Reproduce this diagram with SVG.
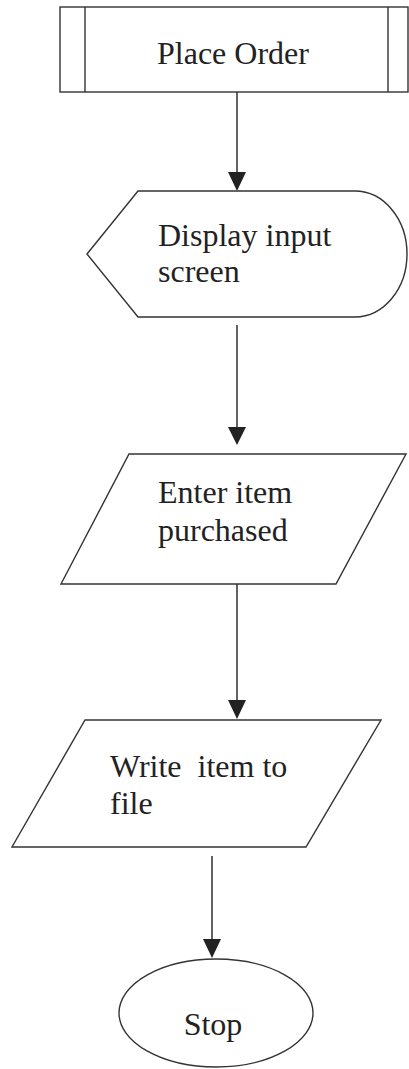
<svg xmlns="http://www.w3.org/2000/svg" width="409" height="1069" viewBox="0 0 409 1069">
<style>
.s{fill:#fff;stroke:#333;stroke-width:1.4}
.t{font-family:"Liberation Serif","Times New Roman",serif;font-size:32px;fill:#222}
.c{stroke:#222;stroke-width:1.4;fill:none}
</style>
<defs>
<marker id="ah" viewBox="0 0 18 19" refX="9" refY="19" markerWidth="18" markerHeight="19" markerUnits="userSpaceOnUse" orient="auto-start-reverse">
<path d="M0,0 L18,0 L9,19 Z" fill="#222"/>
</marker>
</defs>
<rect width="409" height="1069" fill="#fff"/>
<g id="connectors">
<line class="c" x1="237" y1="92" x2="237" y2="172"/>
<path d="M228,172 L246,172 L237,191 Z" fill="#222"/>
<line class="c" x1="237" y1="325" x2="237" y2="427"/>
<path d="M228,427 L246,427 L237,445 Z" fill="#222"/>
<line class="c" x1="237" y1="584" x2="237" y2="700"/>
<path d="M228,700 L246,700 L237,719 Z" fill="#222"/>
<line class="c" x1="212" y1="856" x2="212" y2="939"/>
<path d="M203,939 L221,939 L212,958 Z" fill="#222"/>
</g>
<g id="place-order">
<rect class="s" x="60" y="7" width="348" height="85"/>
<line class="s" x1="85" y1="7" x2="85" y2="92"/>
<line class="s" x1="388" y1="7" x2="388" y2="92"/>
<text class="t" x="157" y="64">Place Order</text>
</g>
<g id="display-input">
<path class="s" d="M87,254 L138,191 L355,191 A52,63 0 0 1 355,317 L138,317 Z"/>
<text class="t" x="158" y="246">Display input</text>
<text class="t" x="158" y="282">screen</text>
</g>
<g id="enter-item">
<path class="s" d="M129,454 L406,454 L336,584 L61,584 Z"/>
<text class="t" x="158" y="503">Enter item</text>
<text class="t" x="158" y="541">purchased</text>
</g>
<g id="write-item">
<path class="s" d="M85,720 L381,720 L306,847 L12,847 Z"/>
<text class="t" x="110" y="777" xml:space="preserve">Write  item to</text>
<text class="t" x="110" y="814">file</text>
</g>
<g id="stop">
<ellipse class="s" cx="216" cy="1013" rx="97" ry="54"/>
<text class="t" x="213" y="1035" text-anchor="middle">Stop</text>
</g>
</svg>
